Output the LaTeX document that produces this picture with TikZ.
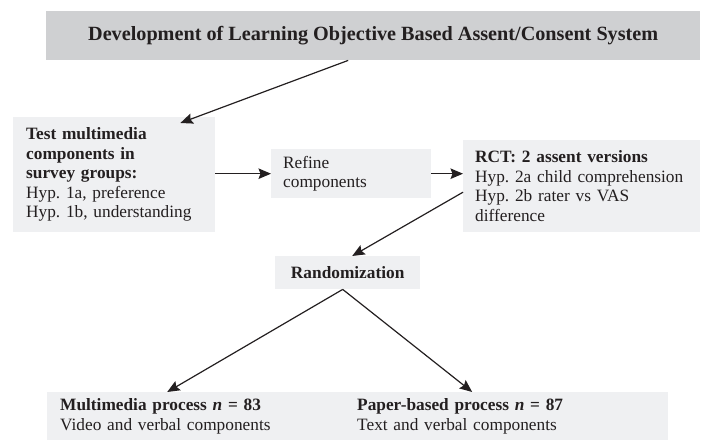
\documentclass[tikz,border=0pt]{standalone}
\usepackage{fontspec}
\setmainfont{Liberation Serif}
\usetikzlibrary{arrows.meta,calc}
\definecolor{titlegray}{RGB}{207,208,210}
\definecolor{boxgray}{RGB}{239,240,242}
\definecolor{ink}{RGB}{35,31,32}
\newcommand{\bodyfont}{\fontsize{17.3pt}{19.5pt}\selectfont}
\frenchspacing
\begin{document}
\begin{tikzpicture}[x=1pt,y=-1pt,
  panel/.style={fill=boxgray, draw=none, inner ysep=0pt, font=\bodyfont, text=ink, anchor=north west, align=left},
  arr/.style={draw=ink, line width=1.2pt, -{Stealth[length=12.5pt,width=10.5pt,inset=2pt]}}]
\useasboundingbox (0,0) rectangle (706,441);

\node[fill=titlegray, draw=none, inner sep=0pt, anchor=north west, minimum width=654pt, minimum height=49pt,
      font=\fontsize{20.2pt}{24pt}\selectfont\bfseries, text=ink] (title) at (46,11)
  {Development of Learning Objective Based Assent/Consent System};

\node[panel, minimum width=202pt, minimum height=115pt, inner xsep=13pt, text width=176pt] (test) at (13,117)
  {\textbf{Test multimedia}\\\textbf{components in}\\\textbf{survey groups:}\\Hyp. 1a, preference\\Hyp. 1b, understanding};

\node[panel, minimum width=160pt, minimum height=49pt, inner xsep=12pt, text width=136pt] (refine) at (271,149)
  {Refine\\components};

\node[panel, minimum width=237pt, minimum height=92pt, inner xsep=12pt, text width=213pt] (rct) at (463,140)
  {\textbf{RCT: 2 assent versions}\\Hyp. 2a child comprehension\\Hyp. 2b rater vs VAS\\difference};

\node[panel, minimum width=145pt, minimum height=33pt, inner xsep=0pt, align=center] (rand) at (275,256)
  {\textbf{Randomization}};

\node[panel, minimum width=298pt, minimum height=48pt, inner xsep=13pt, text width=272pt] (multi) at (47,392)
  {\textbf{Multimedia process \textit{n} = 83}\\Video and verbal components};

\node[panel, minimum width=323pt, minimum height=48pt, inner xsep=12pt, text width=299pt] (paper) at (345,392)
  {\textbf{Paper-based process \textit{n} = 87}\\Text and verbal components};

\draw[arr] ([xshift=-25pt]title.south) -- ([xshift=-35pt,yshift=-6pt]test.north east);
\draw[arr] (test.east |- refine.west) -- (refine.west);
\draw[arr] (refine.east) -- (refine.east -| rct.west);
\draw[arr] ([yshift=-6pt]rct.west) -- ([xshift=4.5pt]rand.north);
\draw[arr] ([xshift=-5pt]rand.south) -- ([xshift=-29pt]multi.north);
\draw[arr] ([xshift=-5pt]rand.south) -- ([xshift=-34.5pt]paper.north);
\end{tikzpicture}
\end{document}
